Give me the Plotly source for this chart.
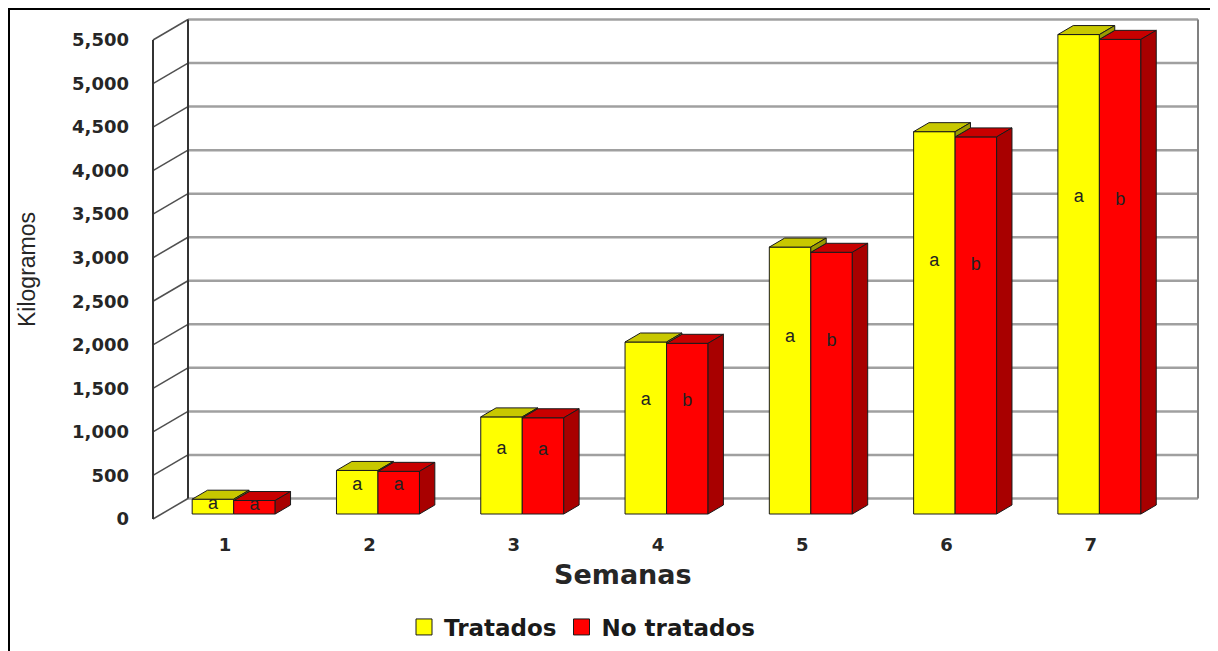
import plotly.graph_objects as go

# ---------------- data ----------------
weeks = [1, 2, 3, 4, 5, 6, 7]
week_labels = ["1", "2", "3", "4", "5", "6", "7"]
tratados = [170, 500, 1115, 1975, 3065, 4390, 5505]
no_tratados = [155, 490, 1105, 1960, 3005, 4330, 5450]
letters_tratados = ["a", "a", "a", "a", "a", "a", "a"]
letters_no_tratados = ["a", "a", "a", "b", "b", "b", "b"]
y_ticks = [0, 500, 1000, 1500, 2000, 2500, 3000, 3500, 4000, 4500, 5000, 5500]
series_names = ["Tratados", "No tratados"]
x_title = "Semanas"
y_title = "Kilogramos"

# ---------------- geometry / style ----------------
W, H = 1218, 651
OFF = 8                      # page body margin: figure is drawn 8px down/right
FL, FR = 153 - OFF, 1163 - OFF   # front plane left/right (figure px)
F0, FT = 519 - OFF, 40 - OFF     # front plane y for 0 and top tick (figure px)
px_x = (FR - FL) / 7.0
px_y = (F0 - FT) / float(y_ticks[-1])
x_range = [0.5 - FL / px_x, 0.5 + (W - FL) / px_x]
y_range = [-(H - F0) / px_y, F0 / px_y]
DX = 35 / px_x              # full floor depth, x units
DY = 20.5 / px_y            # full floor depth, y units
XL, XR = 0.5, 7.5
d0 = 5 / 20.5               # bar front depth fraction
d1 = d0 + 9 / 20.5          # bar back depth fraction
bw = 41.5 / px_x
base0 = d0 * DY
shift0 = d0 * DX
ddx = (d1 - d0) * DX
ddy = (d1 - d0) * DY
LETTER_FRAC = 0.66


def fx(p):
    return (p - OFF) / W


def fy(p):
    return 1 - (p - OFF) / H


YEL, YEL_TOP, YEL_SIDE = "#ffff00", "#c8c800", "#9a9a00"
RED, RED_TOP, RED_SIDE = "#ff0000", "#c80000", "#a80000"
EDGE = "#1a1a1a"
TXT = "#262626"

fig = go.Figure()

# front faces
fig.add_trace(go.Bar(x=weeks, y=tratados, base=base0, width=bw, offset=shift0 - bw,
                     marker=dict(color=YEL, line=dict(color=EDGE, width=1)),
                     showlegend=False, hoverinfo="skip"))
fig.add_trace(go.Bar(x=weeks, y=no_tratados, base=base0, width=bw, offset=shift0,
                     marker=dict(color=RED, line=dict(color=EDGE, width=1)),
                     showlegend=False, hoverinfo="skip"))


def poly_trace(polys, color):
    xs, ys = [], []
    for p in polys:
        for (a, b) in p:
            xs.append(a)
            ys.append(b)
        xs.append(None)
        ys.append(None)
    return go.Scatter(x=xs, y=ys, mode="lines", fill="toself", fillcolor=color,
                      line=dict(color=EDGE, width=1), showlegend=False, hoverinfo="skip")


def top_face(xl, xr, top):
    return [(xl, top), (xr, top), (xr + ddx, top + ddy), (xl + ddx, top + ddy), (xl, top)]


def side_face(xr, lo, hi):
    return [(xr, lo), (xr + ddx, lo + ddy), (xr + ddx, hi + ddy), (xr, hi), (xr, lo)]


red_tops, red_sides, yel_tops, yel_sides = [], [], [], []
for w, vy, vr in zip(weeks, tratados, no_tratados):
    yl, yr_ = w + shift0 - bw, w + shift0
    rl, rr = w + shift0, w + shift0 + bw
    red_tops.append(top_face(rl, rr, base0 + vr))
    red_sides.append(side_face(rr, base0, base0 + vr))
    yel_tops.append(top_face(yl, yr_, base0 + vy))
    if vy > vr:
        yel_sides.append(side_face(yr_, base0 + vr, base0 + vy))

fig.add_trace(poly_trace(red_tops, RED_TOP))
fig.add_trace(poly_trace(red_sides, RED_SIDE))
fig.add_trace(poly_trace(yel_tops, YEL_TOP))
fig.add_trace(poly_trace(yel_sides, YEL_SIDE))

# significance letters
fig.add_trace(go.Scatter(
    x=[w + shift0 - bw / 2 for w in weeks] + [w + shift0 + bw / 2 for w in weeks],
    y=[base0 + LETTER_FRAC * v for v in tratados] + [base0 + LETTER_FRAC * v for v in no_tratados],
    text=letters_tratados + letters_no_tratados, mode="text",
    textfont=dict(family="Liberation Sans, Arial", size=18, color="#222222"),
    showlegend=False, hoverinfo="skip"))

# legend entries
fig.add_trace(go.Scatter(x=[None], y=[None], mode="markers", name=series_names[0],
                         marker=dict(symbol="square", size=16, color=YEL, line=dict(color=EDGE, width=1))))
fig.add_trace(go.Scatter(x=[None], y=[None], mode="markers", name=series_names[1],
                         marker=dict(symbol="square", size=16, color=RED, line=dict(color=EDGE, width=1))))

# walls & gridlines
shapes = []
for t in y_ticks:
    shapes.append(dict(type="line", xref="x", yref="y", layer="below",
                       x0=XL + DX, y0=t + DY, x1=XR + DX, y1=t + DY,
                       line=dict(color="#a0a0a0", width=2.5)))
    shapes.append(dict(type="line", xref="x", yref="y", layer="below",
                       x0=XL, y0=t, x1=XL + DX, y1=t + DY,
                       line=dict(color="#505050", width=1.5)))
shapes.append(dict(type="line", xref="x", yref="y", layer="below",
                   x0=XL, y0=0, x1=XL, y1=y_ticks[-1], line=dict(color="#333333", width=2)))
shapes.append(dict(type="line", xref="x", yref="y", layer="below",
                   x0=XL + DX, y0=DY, x1=XL + DX, y1=y_ticks[-1] + DY, line=dict(color="#333333", width=2)))
shapes.append(dict(type="line", xref="x", yref="y", layer="below",
                   x0=XR + DX, y0=DY, x1=XR + DX, y1=y_ticks[-1] + DY, line=dict(color="#808080", width=2)))
# outer frame (left and top edges visible)
shapes.append(dict(type="rect", xref="paper", yref="paper", x0=1 / W, y0=-0.05, x1=1.05, y1=1 - 1 / H,
                   line=dict(color="#000000", width=2), fillcolor="rgba(0,0,0,0)"))

tickfont = dict(family="DejaVu Sans, Verdana", size=18, color=TXT, weight="bold")

fig.update_layout(
    width=W, height=H, autosize=False,
    margin=dict(l=0, r=0, t=0, b=0),
    paper_bgcolor="white", plot_bgcolor="white",
    barmode="overlay",
    shapes=shapes,
    showlegend=True,
    legend=dict(orientation="h", x=fx(404), xanchor="left", y=fy(627), yanchor="middle",
                font=dict(family="DejaVu Sans, Verdana", size=23, color="#1a1a1a", weight="bold"),
                bgcolor="rgba(0,0,0,0)", itemsizing="trace"),
    xaxis=dict(range=x_range, domain=[0, 1], anchor="free", position=(H - F0) / H,
               tickvals=weeks, ticktext=week_labels, showgrid=False, zeroline=False,
               showline=False, ticks="", tickfont=tickfont, ticklabelstandoff=13, fixedrange=True),
    yaxis=dict(range=y_range, domain=[0, 1], anchor="free", position=FL / W,
               tickvals=y_ticks, tickformat=",", showgrid=False, zeroline=False,
               showline=False, ticks="", tickfont=tickfont, ticklabelstandoff=24, fixedrange=True),
    annotations=[
        dict(text=x_title, xref="paper", yref="paper", x=fx(623), y=fy(574),
             xanchor="center", yanchor="middle", showarrow=False,
             font=dict(family="DejaVu Sans, Verdana", size=27, color=TXT, weight="bold")),
        dict(text=y_title, xref="paper", yref="paper", x=fx(27), y=fy(270),
             xanchor="center", yanchor="middle", showarrow=False, textangle=-90,
             font=dict(family="Liberation Sans, Arial", size=23, color=TXT)),
    ],
)

fig.write_html("out.html")
